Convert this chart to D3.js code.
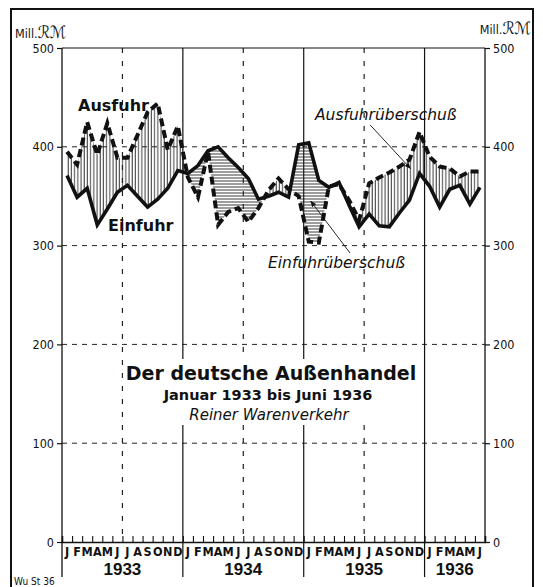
<!DOCTYPE html>
<html>
<head>
<meta charset="utf-8">
<script src="https://cdn.jsdelivr.net/npm/d3@7"></script>
<style>
  body { margin: 0; background: #fff; }
  svg { display: block; }
  text { font-family: "Liberation Sans", "DejaVu Sans", sans-serif; fill: #111; }
</style>
</head>
<body>
<div id="vis-container"></div>
<script>
// size of the page
var w = 543;
var h = 587;

// data: German foreign trade, monthly, Jan 1933 - Jun 1936 (Mill. RM)
var monthLetters = ["J","F","M","A","M","J","J","A","S","O","N","D"];
var years = ["1933","1934","1935","1936"];
var yTicks = [0, 100, 200, 300, 400, 500];
var einfuhr = [371, 349, 358, 321, 337, 354, 361, 350, 339, 347, 358, 376,
               373, 381, 396, 400, 389, 379, 368, 347, 350, 354, 349, 402,
               404, 366, 359, 364, 341, 319, 332, 320, 319, 333, 346, 373,
               360, 339, 357, 361, 342, 359];
var ausfuhr = [395, 382, 425, 392, 424, 389, 389, 412, 435, 444, 397, 421,
               369, 349, 395, 321, 334, 338, 324, 338, 356, 368, 357, 350,
               304, 303, 360, 362, 346, 326, 363, 369, 374, 380, 387, 415,
               390, 380, 378, 370, 375, 375];

var nMonths = einfuhr.length;

var xScale = d3.scaleLinear().domain([0, 42]).range([62, 485]);
var yScale = d3.scaleLinear().domain([0, 500]).range([542, 48]);

var svg = d3.select("#vis-container").append("svg")
    .attr("width", w)
    .attr("height", h);

// hatch patterns
var defs = svg.append("defs");
defs.append("pattern")
    .attr("id", "vhatch")
    .attr("patternUnits", "userSpaceOnUse")
    .attr("width", 3.2).attr("height", 4)
    .append("line")
    .attr("x1", 1).attr("x2", 1).attr("y1", 0).attr("y2", 4)
    .attr("stroke", "#222").attr("stroke-width", 0.9);
defs.append("pattern")
    .attr("id", "hhatch")
    .attr("patternUnits", "userSpaceOnUse")
    .attr("width", 4).attr("height", 3)
    .append("line")
    .attr("x1", 0).attr("x2", 4).attr("y1", 1).attr("y2", 1)
    .attr("stroke", "#222").attr("stroke-width", 0.9);

var mx = function (d, i) { return xScale(i + 0.5); };

// clip regions above / below the import line
defs.append("clipPath").attr("id", "aboveE")
    .append("path")
    .attr("d", d3.area().x(mx).y0(0).y1(function (d) { return yScale(d); })(einfuhr));
defs.append("clipPath").attr("id", "belowE")
    .append("path")
    .attr("d", d3.area().x(mx).y0(h).y1(function (d) { return yScale(d); })(einfuhr));

// outer frame
svg.append("path")
    .attr("d", "M11," + (h + 5) + " L11,9 L533,9 L533," + (h + 5))
    .attr("fill", "none").attr("stroke", "#111").attr("stroke-width", 2);

// horizontal dashed grid
svg.selectAll(".hgrid")
    .data(yTicks.filter(function (d) { return d > 0 && d < 500; }))
    .enter().append("line")
    .attr("x1", xScale(0)).attr("x2", xScale(42))
    .attr("y1", function (d) { return yScale(d); })
    .attr("y2", function (d) { return yScale(d); })
    .attr("stroke", "#222").attr("stroke-width", 1)
    .attr("stroke-dasharray", "5,5");

// mid-year dashed verticals
svg.selectAll(".vmid")
    .data([6, 18, 30])
    .enter().append("line")
    .attr("x1", function (d) { return xScale(d); })
    .attr("x2", function (d) { return xScale(d); })
    .attr("y1", yScale(500)).attr("y2", yScale(0))
    .attr("stroke", "#222").attr("stroke-width", 1.2)
    .attr("stroke-dasharray", "5,8");

// year boundaries (solid)
svg.selectAll(".vyear")
    .data([12, 24, 36])
    .enter().append("line")
    .attr("x1", function (d) { return xScale(d); })
    .attr("x2", function (d) { return xScale(d); })
    .attr("y1", yScale(500)).attr("y2", 577)
    .attr("stroke", "#111").attr("stroke-width", 1.2);

// plot frame: left, right, top
svg.append("line")
    .attr("x1", xScale(0)).attr("x2", xScale(0))
    .attr("y1", yScale(500)).attr("y2", 577)
    .attr("stroke", "#111").attr("stroke-width", 1.3);
svg.append("line")
    .attr("x1", xScale(42)).attr("x2", xScale(42))
    .attr("y1", yScale(500)).attr("y2", yScale(0))
    .attr("stroke", "#111").attr("stroke-width", 1.3);
svg.append("line")
    .attr("x1", xScale(0)).attr("x2", xScale(42))
    .attr("y1", yScale(500)).attr("y2", yScale(500))
    .attr("stroke", "#111").attr("stroke-width", 1.2);

// y axes
var yAxisL = d3.axisLeft(yScale).tickValues(yTicks).tickSize(5).tickPadding(3);
var yAxisR = d3.axisRight(yScale).tickValues(yTicks).tickSize(5).tickPadding(3);
var gl = svg.append("g").attr("transform", "translate(" + xScale(0) + ",0)").call(yAxisL);
var gr = svg.append("g").attr("transform", "translate(" + xScale(42) + ",0)").call(yAxisR);
[gl, gr].forEach(function (g) {
    g.select(".domain").remove();
    g.selectAll("line").attr("stroke", "#111").attr("stroke-width", 1.2);
    g.selectAll("text").style("font-size", "12.5px")
        .style("font-family", "'DejaVu Sans Condensed', 'DejaVu Sans', sans-serif")
        .attr("fill", "#111");
});

// x axis: baseline with month ticks pointing up
var xAxis = d3.axisTop(xScale).tickValues(d3.range(0, 43)).tickSize(6).tickFormat("");
var gx = svg.append("g").attr("transform", "translate(0," + yScale(0) + ")").call(xAxis);
gx.select(".domain").attr("stroke", "#111").attr("stroke-width", 1.5);
gx.selectAll("line").attr("stroke", "#111").attr("stroke-width", 1.1);

// month letters
svg.selectAll(".mlab")
    .data(d3.range(nMonths))
    .enter().append("text")
    .attr("x", function (d) { return xScale(d + 0.5); })
    .attr("y", 556)
    .attr("text-anchor", "middle")
    .style("font-size", "12.5px")
    .style("font-weight", "bold")
    .style("font-family", "'DejaVu Sans Condensed', 'DejaVu Sans', sans-serif")
    .text(function (d) { return monthLetters[d % 12]; });

// year labels
svg.selectAll(".ylab")
    .data(years)
    .enter().append("text")
    .attr("x", function (d, i) { return xScale(i * 12 + (i < 3 ? 6 : 3)); })
    .attr("y", 575)
    .attr("text-anchor", "middle")
    .style("font-size", "17px")
    .style("font-weight", "bold")
    .text(function (d) { return d; });

// surplus hatching between the two lines
var band = d3.area().x(mx)
    .y0(function (d, i) { return yScale(einfuhr[i]); })
    .y1(function (d) { return yScale(d); });
svg.append("path")
    .attr("d", band(ausfuhr))
    .attr("fill", "url(#vhatch)")
    .attr("clip-path", "url(#aboveE)");
svg.append("path")
    .attr("d", band(ausfuhr))
    .attr("fill", "url(#hhatch)")
    .attr("clip-path", "url(#belowE)");

// lines
var line = d3.line().x(mx).y(function (d) { return yScale(d); });
svg.append("path")
    .attr("d", line(einfuhr))
    .attr("fill", "none").attr("stroke", "#111")
    .attr("stroke-width", 3.6).attr("stroke-linejoin", "miter");
svg.append("path")
    .attr("d", line(ausfuhr))
    .attr("fill", "none").attr("stroke", "#111")
    .attr("stroke-width", 4).attr("stroke-dasharray", "8,4");

// series labels
svg.append("text").attr("x", 78).attr("y", 111)
    .style("font-size", "16px").style("font-weight", "bold")
    .style("font-family", "'DejaVu Sans', sans-serif")
    .text("Ausfuhr");
svg.append("text").attr("x", 108).attr("y", 231)
    .style("font-size", "16px").style("font-weight", "bold")
    .style("font-family", "'DejaVu Sans', sans-serif")
    .text("Einfuhr");

svg.append("text").attr("x", 315).attr("y", 120)
    .style("font-size", "15.5px").style("font-style", "italic")
    .style("font-family", "'DejaVu Sans', sans-serif")
    .text("Ausfuhrüberschuß");
svg.append("text").attr("x", 268).attr("y", 268)
    .style("font-size", "15.5px").style("font-style", "italic")
    .style("font-family", "'DejaVu Sans', sans-serif")
    .text("Einfuhrüberschuß");

// pointer lines
defs.append("marker").attr("id", "arr")
    .attr("viewBox", "0 0 10 10").attr("refX", 9).attr("refY", 5)
    .attr("markerWidth", 7).attr("markerHeight", 7).attr("orient", "auto")
    .append("path").attr("d", "M0,1 L10,5 L0,9 Z").attr("fill", "#111");
svg.append("line")
    .attr("x1", xScale(30.6)).attr("y1", 125)
    .attr("x2", xScale(34.6)).attr("y2", yScale(378))
    .attr("stroke", "#111").attr("stroke-width", 0.9)
    .attr("marker-end", "url(#arr)");
svg.append("line")
    .attr("x1", xScale(28.6)).attr("y1", 253)
    .attr("x2", xScale(24.7)).attr("y2", yScale(345))
    .attr("stroke", "#111").attr("stroke-width", 0.9)
    .attr("marker-end", "url(#arr)");

// title block with white backing
var tb = svg.append("g");
tb.append("rect").attr("x", 124).attr("y", 359).attr("width", 296).attr("height", 66).attr("fill", "#fff");
tb.append("text").attr("x", 271).attr("y", 380).attr("text-anchor", "middle")
    .style("font-size", "19px").style("font-weight", "bold")
    .style("font-family", "'DejaVu Sans', sans-serif")
    .text("Der deutsche Außenhandel");
tb.append("text").attr("x", 268).attr("y", 400).attr("text-anchor", "middle")
    .style("font-size", "14.5px").style("font-weight", "bold")
    .style("font-family", "'DejaVu Sans', sans-serif")
    .text("Januar 1933 bis Juni 1936");
tb.append("text").attr("x", 269).attr("y", 420).attr("text-anchor", "middle")
    .style("font-size", "15px").style("font-style", "italic")
    .style("font-family", "'DejaVu Sans', sans-serif")
    .text("Reiner Warenverkehr");

// unit labels
var ul = svg.append("text").attr("x", 15).attr("y", 38)
    .style("font-size", "12.5px")
    .style("font-family", "'DejaVu Sans Condensed', 'DejaVu Sans', sans-serif");
ul.append("tspan").text("Mill.");
ul.append("tspan").style("font-size", "17px").style("font-style", "italic").text("ℛℳ");
var ur = svg.append("text").attr("x", 531).attr("y", 34).attr("text-anchor", "end")
    .style("font-size", "12.5px")
    .style("font-family", "'DejaVu Sans Condensed', 'DejaVu Sans', sans-serif");
ur.append("tspan").text("Mill.");
ur.append("tspan").style("font-size", "17px").style("font-style", "italic").text("ℛℳ");

// source mark
svg.append("text").attr("x", 14).attr("y", 585)
    .style("font-size", "10px")
    .style("font-family", "'DejaVu Sans Condensed', 'DejaVu Sans', sans-serif")
    .text("Wu St 36");
</script>
</body>
</html>
